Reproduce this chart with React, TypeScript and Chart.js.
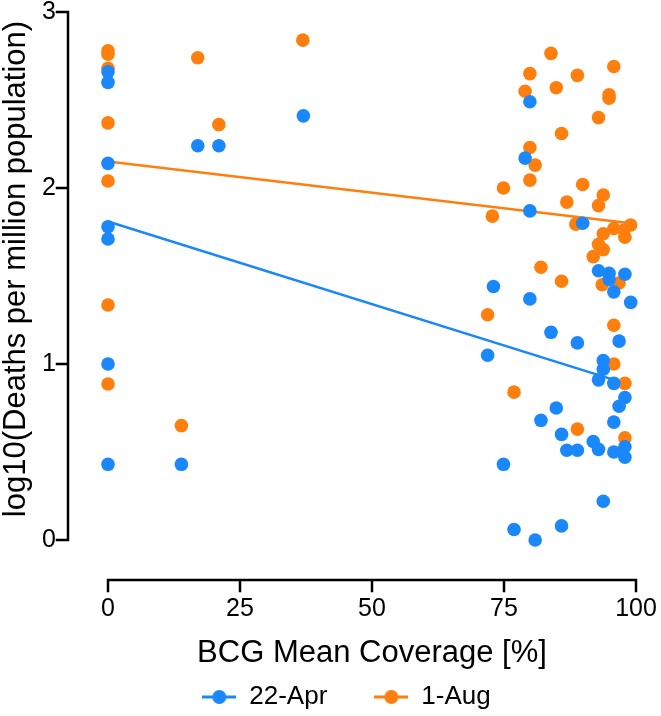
import React, { useEffect, useRef } from 'react';
import { Chart, registerables } from 'chart.js';

Chart.register(...registerables);

// ---- data ----
const SERIES_NAMES = ['22-Apr', '1-Aug'];
const SERIES_COLORS = ['#1A87FA', '#FF7F0E'];
const X_TITLE = 'BCG Mean Coverage [%]';
const Y_TITLE = 'log10(Deaths per million population)';
const X_TICKS = [0, 25, 50, 75, 100];
const Y_TICKS = [0, 1, 2, 3];

const APR_X = [0, 0, 0, 0, 0, 0, 0, 13.9, 17, 21, 37,
  79.9, 79, 79.9, 89.9, 92.9, 94.9, 94.9, 97.9, 95.8, 79.9,
  99, 73, 83.9, 88.9, 71.9, 96.8, 93.8, 93.8, 92.9, 95.8,
  97.9, 96.8, 84.9, 82, 95.8, 85.9, 91.9, 92.9, 86.9, 88.9,
  95.8, 97.9, 97.9, 74.9, 93.8, 76.9, 85.9, 80.9];
const APR_Y = [2.66, 2.60, 2.14, 1.78, 1.71, 1.00, 0.43, 0.43, 2.24, 2.24, 2.41,
  2.49, 2.17, 1.87, 1.80, 1.53, 1.515, 1.48, 1.51, 1.41, 1.37,
  1.35, 1.44, 1.18, 1.12, 1.05, 1.13, 1.02, 0.97, 0.91, 0.89,
  0.81, 0.76, 0.75, 0.68, 0.67, 0.60, 0.56, 0.515, 0.51, 0.51,
  0.50, 0.53, 0.47, 0.43, 0.22, 0.06, 0.08, 0.00];

const AUG_X = [0, 0, 0, 0, 0, 0, 0, 13.9, 17, 21, 36.9,
  83.9, 79.9, 95.8, 88.9, 79, 84.9, 94.9, 94.9, 92.9, 85.9,
  79.9, 80.9, 79.9, 74.9, 89.9, 93.8, 92.9, 86.9, 72.8, 88.6,
  99, 95.8, 97.7, 97.9, 93.8, 92.9, 93.8, 91.9, 82, 85.9,
  93.6, 96.8, 71.9, 95.8, 95.8, 97.9, 76.9, 88.9, 97.9];
const AUG_Y = [2.78, 2.76, 2.68, 2.37, 2.04, 1.335, 0.886, 0.65, 2.74, 2.36, 2.84,
  2.765, 2.65, 2.69, 2.64, 2.55, 2.57, 2.53, 2.51, 2.40, 2.31,
  2.23, 2.13, 2.045, 2.00, 2.02, 1.96, 1.90, 1.92, 1.84, 1.795,
  1.79, 1.77, 1.76, 1.72, 1.74, 1.68, 1.65, 1.61, 1.55, 1.47,
  1.45, 1.46, 1.28, 1.22, 1.00, 0.89, 0.84, 0.63, 0.58];

// regression line end points
const APR_FIT_X = [0, 99];
const APR_FIT_Y = [1.81, 0.88];
const AUG_FIT_X = [0, 99];
const AUG_FIT_Y = [2.15, 1.80];

// ---- style ----
const FONT = "'Liberation Sans', Arial, Helvetica, sans-serif";
const W = 661;
const H = 716;
const Y_AXIS_GAP = 40;
const X_AXIS_GAP = 40;
const TICK_LEN = 11;
const AXIS_W = 2.5;
const LEGEND_SHIFT_X = 28.5;
const LEGEND_SHIFT_Y = 4;
const Y_TITLE_SHIFT = -7;

const zip = (xs: number[], ys: number[]) => xs.map((x, i) => ({ x, y: ys[i] }));

function makeMarker(color: string): HTMLCanvasElement {
  const c = document.createElement('canvas');
  c.width = 34;
  c.height = 16;
  const g = c.getContext('2d')!;
  g.strokeStyle = color;
  g.lineWidth = 3;
  g.beginPath();
  g.moveTo(0, 8);
  g.lineTo(34, 8);
  g.stroke();
  g.fillStyle = color;
  g.beginPath();
  g.arc(17, 8, 7, 0, Math.PI * 2);
  g.fill();
  return c;
}

const offsetAxes = {
  id: 'offsetAxes',
  afterLayout(chart: any) {
    const lg = chart.legend;
    if (lg) {
      lg.left += LEGEND_SHIFT_X;
      lg.right += LEGEND_SHIFT_X;
      lg.top += LEGEND_SHIFT_Y;
      lg.bottom += LEGEND_SHIFT_Y;
    }
    const y = chart.scales.y;
    y.top += Y_TITLE_SHIFT;
    y.bottom += Y_TITLE_SHIFT;
  },
  afterDraw(chart: any) {
    const { ctx } = chart;
    const x = chart.scales.x;
    const y = chart.scales.y;
    const ax = x.getPixelForValue(x.min) - Y_AXIS_GAP;
    const ay = y.getPixelForValue(y.min) + X_AXIS_GAP;
    ctx.save();
    ctx.strokeStyle = '#000';
    ctx.lineWidth = AXIS_W;
    ctx.lineCap = 'square';
    ctx.beginPath();
    ctx.moveTo(ax, y.getPixelForValue(y.max));
    ctx.lineTo(ax, y.getPixelForValue(y.min));
    Y_TICKS.forEach((v) => {
      const py = y.getPixelForValue(v);
      ctx.moveTo(ax - TICK_LEN, py);
      ctx.lineTo(ax, py);
    });
    ctx.moveTo(x.getPixelForValue(x.min), ay);
    ctx.lineTo(x.getPixelForValue(x.max), ay);
    X_TICKS.forEach((v) => {
      const px = x.getPixelForValue(v);
      ctx.moveTo(px, ay);
      ctx.lineTo(px, ay + TICK_LEN);
    });
    ctx.stroke();
    ctx.restore();
  },
};

export default function App() {
  const ref = useRef<HTMLCanvasElement | null>(null);

  useEffect(() => {
    if (!ref.current) return;
    const markers = SERIES_COLORS.map(makeMarker);
    const chart = new Chart(ref.current, {
      type: 'scatter',
      data: {
        datasets: [
          {
            label: SERIES_NAMES[0],
            data: zip(APR_X, APR_Y),
            backgroundColor: SERIES_COLORS[0],
            borderColor: SERIES_COLORS[0],
            pointRadius: 6.8,
            pointHoverRadius: 6.8,
            pointBorderWidth: 0,
            clip: false,
            order: 0,
          },
          {
            label: SERIES_NAMES[1],
            data: zip(AUG_X, AUG_Y),
            backgroundColor: SERIES_COLORS[1],
            borderColor: SERIES_COLORS[1],
            pointRadius: 6.8,
            pointHoverRadius: 6.8,
            pointBorderWidth: 0,
            clip: false,
            order: 1,
          },
          {
            label: SERIES_NAMES[0] + ' fit',
            type: 'line',
            data: zip(APR_FIT_X, APR_FIT_Y),
            borderColor: SERIES_COLORS[0],
            borderWidth: 2.5,
            pointRadius: 0,
            showLine: true,
            fill: false,
            clip: false,
            order: 2,
          } as any,
          {
            label: SERIES_NAMES[1] + ' fit',
            type: 'line',
            data: zip(AUG_FIT_X, AUG_FIT_Y),
            borderColor: SERIES_COLORS[1],
            borderWidth: 2.5,
            pointRadius: 0,
            showLine: true,
            fill: false,
            clip: false,
            order: 3,
          } as any,
        ],
      },
      options: {
        animation: false,
        responsive: false,
        devicePixelRatio: 1,
        layout: { padding: { top: 12, right: 25, bottom: 0, left: 0 } },
        plugins: {
          tooltip: { enabled: false },
          legend: {
            position: 'bottom',
            labels: {
              usePointStyle: true,
              pointStyleWidth: 34,
              padding: 47,
              color: '#000',
              font: { family: FONT, size: 26 },
              generateLabels: () =>
                SERIES_NAMES.map((text, i) => ({
                  text,
                  fillStyle: SERIES_COLORS[i],
                  strokeStyle: SERIES_COLORS[i],
                  lineWidth: 0,
                  pointStyle: markers[i],
                  hidden: false,
                  datasetIndex: i,
                  fontColor: '#000',
                })),
            },
          },
        },
        scales: {
          x: {
            type: 'linear',
            min: 0,
            max: 100,
            afterBuildTicks: (s: any) => {
              s.ticks = X_TICKS.map((v) => ({ value: v }));
            },
            afterFit: (s: any) => {
              s.height = 93;
              s.paddingLeft = 0;
              s.paddingRight = 0;
            },
            grid: { display: false, drawTicks: false },
            border: { display: false },
            ticks: {
              padding: 56.5,
              color: '#000',
              maxRotation: 0,
              font: { family: FONT, size: 25, lineHeight: 1 },
            },
            title: {
              display: true,
              text: X_TITLE,
              color: '#000',
              font: { family: FONT, size: 31, lineHeight: 1 },
              padding: { top: 0, bottom: -35.5 },
            },
          },
          y: {
            type: 'linear',
            min: 0,
            max: 3,
            afterBuildTicks: (s: any) => {
              s.ticks = Y_TICKS.map((v) => ({ value: v }));
            },
            afterFit: (s: any) => {
              s.width = 108;
              s.paddingTop = 0;
              s.paddingBottom = 0;
            },
            grid: { display: false, drawTicks: false },
            border: { display: false },
            ticks: {
              padding: 52,
              color: '#000',
              font: { family: FONT, size: 25, lineHeight: 1 },
            },
            title: {
              display: true,
              text: Y_TITLE,
              color: '#000',
              font: { family: FONT, size: 31, lineHeight: 1 },
              padding: { top: 0.5, bottom: 0 },
            },
          },
        },
      },
      plugins: [offsetAxes],
    } as any);
    return () => chart.destroy();
  }, []);

  return (
    <div style={{ position: 'fixed', left: 0, top: 0, width: W, height: H, background: '#fff' }}>
      <canvas ref={ref} width={W} height={H} style={{ display: 'block', width: W, height: H }} />
    </div>
  );
}
